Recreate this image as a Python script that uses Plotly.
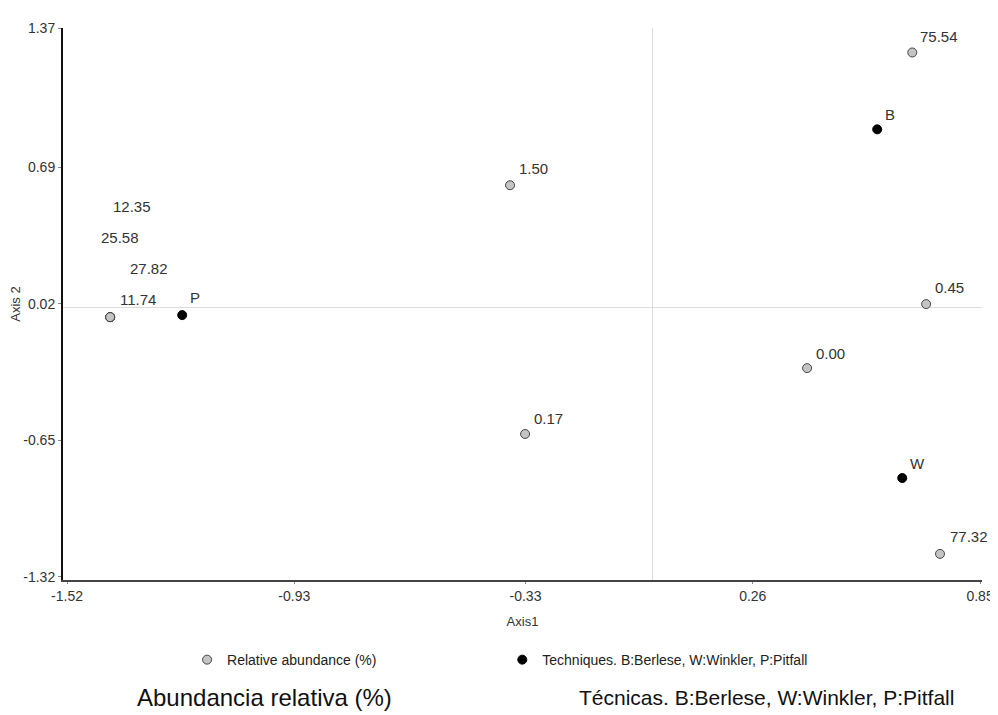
import plotly.graph_objects as go

# ---- data ----
abund_labels = ["75.54", "1.50", "12.35", "25.58", "27.82", "11.74", "0.45", "0.00", "0.17", "77.32"]
abund_x = [0.674, -0.370, -1.408, -1.408, -1.408, -1.408, 0.710, 0.401, -0.331, 0.746]
abund_y = [1.252, 0.601, -0.046, -0.046, -0.046, -0.046, 0.018, -0.296, -0.619, -1.207]

tech_labels = ["B", "P", "W"]
tech_x = [0.583, -1.221, 0.648]
tech_y = [0.875, -0.036, -0.835]

x_ticks = [-1.52, -0.93, -0.33, 0.26, 0.85]
x_ticktext = ["-1.52", "-0.93", "-0.33", "0.26", "0.85"]
y_ticks = [-1.32, -0.65, 0.02, 0.69, 1.37]
y_ticktext = ["-1.32", "-0.65", "0.02", "0.69", "1.37"]

# label offsets in pixels (style only)
abund_dx = [6, 7, 1, -11, 18, 8, 7, 7, 7, 8]
abund_dy = [16, 17, 111, 80, 49, 18, 17, 15, 16, 17]
tech_dx = [6, 6, 6]
tech_dy = [15, 18, 15]

FONT = "Liberation Sans, Arial, sans-serif"
TXT = "#333333"

fig = go.Figure()
fig.add_trace(go.Scatter(
    x=abund_x, y=abund_y, mode="markers", name="Relative abundance (%)",
    marker=dict(size=9, color="#c4c4c4", line=dict(color="#444444", width=1)),
    legend="legend", showlegend=True, hoverinfo="skip"))
fig.add_trace(go.Scatter(
    x=tech_x, y=tech_y, mode="markers", name="Techniques. B:Berlese, W:Winkler, P:Pitfall",
    marker=dict(size=9, color="#000000", line=dict(color="#000000", width=1)),
    legend="legend2", showlegend=True, hoverinfo="skip"))

annotations = []
for lab, x, y, dx, dy in zip(abund_labels, abund_x, abund_y, abund_dx, abund_dy):
    annotations.append(dict(x=x, y=y, xref="x", yref="y", text=lab, showarrow=False,
                            xanchor="left", yanchor="middle", xshift=dx, yshift=dy,
                            font=dict(family=FONT, size=15, color=TXT)))
for lab, x, y, dx, dy in zip(tech_labels, tech_x, tech_y, tech_dx, tech_dy):
    annotations.append(dict(x=x, y=y, xref="x", yref="y", text=lab, showarrow=False,
                            xanchor="left", yanchor="middle", xshift=dx, yshift=dy,
                            font=dict(family=FONT, size=15, color=TXT)))

annotations.append(dict(x=0.219, y=-0.212, xref="paper", yref="paper",
                        text="Abundancia relativa (%)", showarrow=False,
                        xanchor="center", yanchor="middle",
                        font=dict(family=FONT, size=24, color="#111111")))
annotations.append(dict(x=0.766, y=-0.212, xref="paper", yref="paper",
                        text="Técnicas. B:Berlese, W:Winkler, P:Pitfall", showarrow=False,
                        xanchor="center", yanchor="middle",
                        font=dict(family=FONT, size=21, color="#111111")))

# page body has an 8px margin: figure drawn 8px smaller and margins shifted
fig.update_layout(
    width=990, height=707,
    margin=dict(l=55, r=16, t=20, b=135, autoexpand=False),
    paper_bgcolor="white", plot_bgcolor="white",
    showlegend=True,
    font=dict(family=FONT, size=14, color=TXT),
    annotations=annotations,
    legend=dict(x=0.135, y=-0.145, xanchor="left", yanchor="middle", orientation="h",
                itemwidth=30, font=dict(family=FONT, size=14, color="#222222"), bgcolor="rgba(0,0,0,0)"),
    legend2=dict(x=0.478, y=-0.145, xanchor="left", yanchor="middle", orientation="h",
                 itemwidth=30, font=dict(family=FONT, size=14, color="#222222"), bgcolor="rgba(0,0,0,0)"),
    xaxis=dict(range=[-1.5304, 0.855], tickvals=x_ticks, ticktext=x_ticktext,
               showgrid=False, zeroline=True, zerolinecolor="#dddddd", zerolinewidth=1,
               showline=True, linecolor="#444444", linewidth=2,
               ticks="outside", ticklen=2, tickcolor="#888888", automargin=False,
               tickfont=dict(family=FONT, size=14, color=TXT),
               title=dict(text="Axis1", font=dict(family=FONT, size=13, color=TXT), standoff=14)),
    yaxis=dict(range=[-1.335, 1.372], tickvals=y_ticks, ticktext=y_ticktext,
               showgrid=False, zeroline=True, zerolinecolor="#dddddd", zerolinewidth=1,
               showline=True, linecolor="#111111", linewidth=2,
               ticks="outside", ticklen=3, tickcolor="#888888", automargin=False,
               tickfont=dict(family=FONT, size=14, color=TXT),
               title=dict(text="Axis 2", font=dict(family=FONT, size=13, color=TXT), standoff=4)),
)

fig.write_html("out.html")
